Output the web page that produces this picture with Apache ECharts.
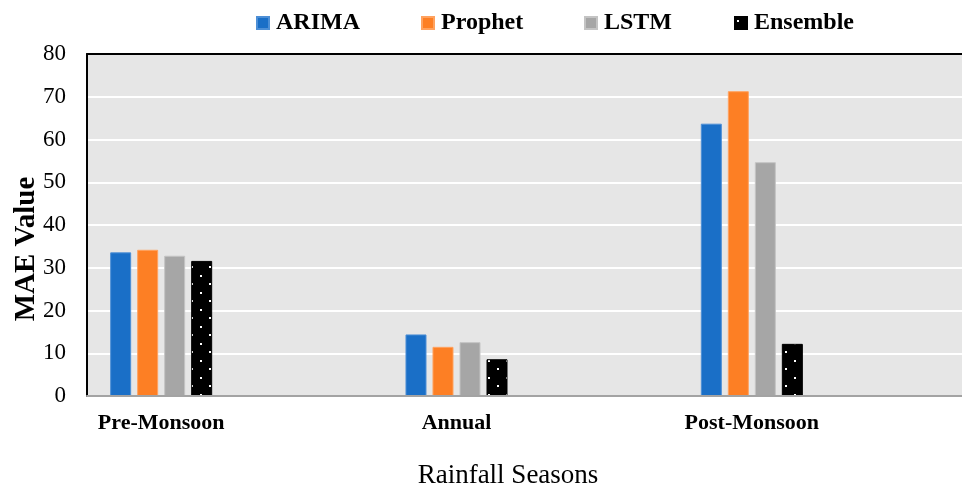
<!DOCTYPE html>
<html>
<head>
<meta charset="utf-8">
<script src="https://cdn.jsdelivr.net/npm/echarts@6/dist/echarts.min.js"></script>
<style>
  html, body { margin: 0; padding: 0; background: #ffffff; }
  #chart { width: 962px; height: 487px; }
</style>
</head>
<body>
<div id="chart"></div>
<script>
// MAE of each forecasting model, grouped by rainfall season
const seasons = ['Pre-Monsoon', 'Annual', 'Post-Monsoon'];
const models = ['ARIMA', 'Prophet', 'LSTM', 'Ensemble'];
const arima = [33.6, 14.4, 63.7];
const prophet = [34.2, 11.5, 71.3];
const lstm = [32.8, 12.6, 54.7];
const ensemble = [31.6, 8.6, 12.2];
const yTicks = [0, 10, 20, 30, 40, 50, 60, 70, 80];

const SERIF = "'Liberation Serif', 'Times New Roman', serif";

// black fill sprinkled with small white dots
function dotPattern() {
  const c = document.createElement('canvas');
  c.width = 18; c.height = 17;
  const g = c.getContext('2d');
  g.fillStyle = '#000';
  g.fillRect(0, 0, 18, 17);
  g.fillStyle = '#fff';
  g.fillRect(2, 3, 2, 2);
  g.fillRect(11, 11, 2, 2);
  return c;
}

const chart = echarts.init(document.getElementById('chart'), null, { renderer: 'canvas' });

const plotTop = 54, plotBottom = 91;

function legendAt(name, left) {
  return {
    data: [name], left: left, top: 11, padding: 0,
    itemWidth: 12, itemHeight: 12, icon: 'rect',
    textStyle: { fontFamily: SERIF, fontWeight: 'bold', fontSize: 24, color: '#000', lineHeight: 24, padding: [0, 0, 0, 2] }
  };
}

function barSeries(name, values, fill, edge) {
  return {
    name: name, type: 'bar', xAxisIndex: 2, yAxisIndex: 2,
    data: values, barWidth: 21, barGap: '28.6%',
    itemStyle: { color: fill, borderColor: edge, borderWidth: 1 },
    emphasis: { disabled: true }
  };
}

chart.setOption({
  animation: false,
  legend: [
    legendAt(models[0], 256),
    legendAt(models[1], 421),
    legendAt(models[2], 584),
    legendAt(models[3], 734)
  ],
  grid: [
    { left: 87, right: -1, top: plotTop, bottom: plotBottom, show: true, backgroundColor: '#e6e6e6', borderWidth: 0 },
    { left: 13.5, width: 886, top: plotTop, bottom: plotBottom }
  ],
  xAxis: [
    { gridIndex: 0, type: 'value', min: 0, max: 1, position: 'bottom', z: 5,
      axisLine: { show: true, onZero: false, lineStyle: { color: '#a3a3a3', width: 2 } },
      axisTick: { show: false }, axisLabel: { show: false }, splitLine: { show: false } },
    { gridIndex: 0, type: 'value', min: 0, max: 1, position: 'top', z: 5,
      axisLine: { show: true, onZero: false, lineStyle: { color: '#000', width: 2 } },
      axisTick: { show: false }, axisLabel: { show: false }, splitLine: { show: false } },
    { gridIndex: 1, type: 'category', data: seasons,
      axisLine: { show: false }, axisTick: { show: false }, splitLine: { show: false },
      axisLabel: { fontFamily: SERIF, fontWeight: 'bold', fontSize: 22, color: '#000', margin: 16 } }
  ],
  yAxis: [
    { gridIndex: 0, type: 'value', min: 0, max: 80, interval: 10,
      axisLine: { show: false }, axisTick: { show: false },
      axisLabel: { fontFamily: SERIF, fontSize: 23, color: '#000', margin: 21,
        formatter: v => (yTicks.indexOf(v) >= 0 ? String(v) : '') },
      splitLine: { show: true, lineStyle: { color: '#ffffff', width: 2 } } },
    { gridIndex: 0, type: 'value', min: 0, max: 80, position: 'left', z: 5,
      axisLine: { show: true, onZero: false, lineStyle: { color: '#000', width: 2 } },
      axisTick: { show: false }, axisLabel: { show: false }, splitLine: { show: false } },
    { gridIndex: 1, type: 'value', min: 0, max: 80, show: false }
  ],
  graphic: [
    { type: 'text', x: 27, y: 249, rotation: Math.PI / 2,
      style: { text: 'MAE Value', fontFamily: SERIF, fontWeight: 'bold', fontSize: 29, fill: '#000',
        textAlign: 'center', textVerticalAlign: 'middle' } },
    { type: 'text', x: 508, y: 476,
      style: { text: 'Rainfall Seasons', fontFamily: SERIF, fontSize: 27, fill: '#000',
        textAlign: 'center', textVerticalAlign: 'middle' } }
  ],
  series: [
    barSeries(models[0], arima, '#1a6fc7', '#4d8fd6'),
    barSeries(models[1], prophet, '#fd7f24', '#ffa25f'),
    barSeries(models[2], lstm, '#a6a6a6', '#c4c4c4'),
    barSeries(models[3], ensemble, { image: dotPattern(), repeat: 'repeat' }, '#000')
  ]
});
</script>
</body>
</html>
